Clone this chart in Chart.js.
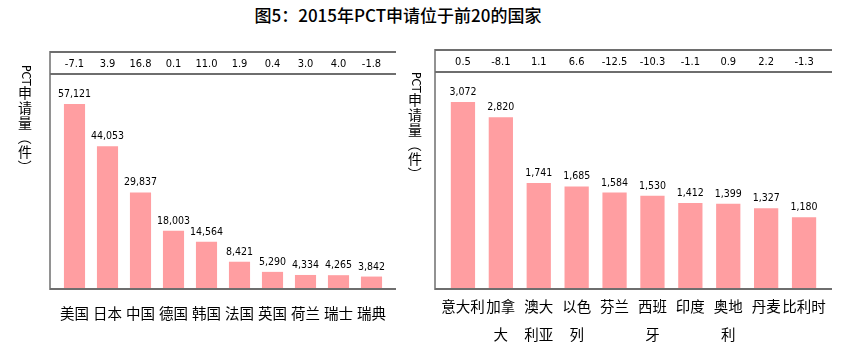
<!DOCTYPE html>
<html>
<head>
<meta charset="utf-8">
<script src="https://cdn.jsdelivr.net/npm/chart.js@4"></script>
<style>
  html, body { margin: 0; padding: 0; background: #fff; }
  #wrap { position: relative; width: 864px; height: 356px; overflow: hidden; }
  #title { position: absolute; left: 0; width: 796px; top: 4px; text-align: center;
           font: 500 17px "Noto Sans CJK SC", sans-serif; color: #000; line-height: 22px; }
  canvas { position: absolute; top: 0; }
  #c1 { left: 0; }
  #c2 { left: 400px; }
</style>
</head>
<body>
<div id="wrap">
  <div id="title">图5：2015年PCT申请位于前20的国家</div>
  <canvas id="c1" width="400" height="356"></canvas>
  <canvas id="c2" width="464" height="356"></canvas>
</div>
<script>
// ---- data ----
const leftCountries = ['美国','日本','中国','德国','韩国','法国','英国','荷兰','瑞士','瑞典'];
const leftApplications = [57121, 44053, 29837, 18003, 14564, 8421, 5290, 4334, 4265, 3842];
const leftGrowth = [-7.1, 3.9, 16.8, 0.1, 11.0, 1.9, 0.4, 3.0, 4.0, -1.8];

const rightCountries = ['意大利', ['加拿','大'], ['澳大','利亚'], ['以色','列'], '芬兰', ['西班','牙'], '印度', ['奥地','利'], '丹麦', '比利时'];
const rightApplications = [3072, 2820, 1741, 1685, 1584, 1530, 1412, 1399, 1327, 1180];
const rightGrowth = [0.5, -8.1, 1.1, 6.6, -12.5, -10.3, -1.1, 0.9, 2.2, -1.3];

const yTitle = 'PCT申请量（件）';

// ---- style ----
const BAR_COLOR = 'rgb(255,158,161)';
const LINE_COLOR = '#6e6e6e';
const NARROW = '"Liberation Sans Narrow", "Arial Narrow", "DejaVu Sans Condensed", sans-serif';
const CJK = '"Noto Sans CJK SC", sans-serif';

function drawVerticalTitle(ctx, x, y, text) {
  let cy = y;
  ctx.save();
  ctx.fillStyle = '#000';
  for (const ch of text) {
    const code = ch.codePointAt(0);
    const isCJK = code >= 0x4E00 && code <= 0x9FFF;
    if (isCJK) {
      ctx.font = '14px ' + CJK;
      ctx.textAlign = 'center';
      ctx.textBaseline = 'middle';
      ctx.fillText(ch, x, cy + 7.5);
      cy += 15;
    } else if (code >= 0xFF00) {
      ctx.font = '14px ' + CJK;
      ctx.save();
      ctx.translate(x, cy + 7);
      ctx.rotate(Math.PI / 2);
      ctx.textAlign = 'center';
      ctx.textBaseline = 'middle';
      ctx.fillText(ch, 0, 0);
      ctx.restore();
      cy += 14;
    } else {
      ctx.font = '12px ' + NARROW;
      const w = ctx.measureText(ch).width;
      ctx.save();
      ctx.translate(x, cy);
      ctx.rotate(Math.PI / 2);
      ctx.textAlign = 'left';
      ctx.textBaseline = 'middle';
      ctx.fillText(ch, 0, 0);
      ctx.restore();
      cy += w;
    }
  }
  ctx.restore();
}

const decorPlugin = {
  id: 'decor',
  afterDraw(chart, args, opts) {
    const ctx = chart.ctx;
    const a = chart.chartArea;
    const xs = chart.scales.x;
    const left = a.left - opts.ext, right = a.right + opts.ext;
    const top = a.top - opts.rowH;
    ctx.save();
    ctx.strokeStyle = LINE_COLOR;
    ctx.lineWidth = 2;
    ctx.beginPath(); ctx.moveTo(left, top); ctx.lineTo(right, top); ctx.stroke();
    ctx.beginPath(); ctx.moveTo(left, a.top); ctx.lineTo(right, a.top); ctx.stroke();
    ctx.lineWidth = 1.5;
    ctx.beginPath(); ctx.moveTo(left, top - 1); ctx.lineTo(left, a.bottom + 1); ctx.stroke();
    ctx.lineWidth = 2;
    ctx.beginPath(); ctx.moveTo(left, a.bottom); ctx.lineTo(right, a.bottom); ctx.stroke();

    // growth row
    ctx.fillStyle = '#000';
    ctx.font = '11px ' + NARROW;
    ctx.textAlign = 'center';
    ctx.textBaseline = 'middle';
    opts.growth.forEach((g, i) => {
      ctx.fillText(g.toFixed(1), xs.getPixelForValue(i), (top + a.top) / 2 + 1);
    });

    // value labels
    const meta = chart.getDatasetMeta(0);
    ctx.font = '10.5px ' + NARROW;
    ctx.textBaseline = 'alphabetic';
    meta.data.forEach((bar, i) => {
      const v = chart.data.datasets[0].data[i];
      ctx.fillText(v.toLocaleString('en-US'), bar.x, bar.y - 7);
    });
    ctx.restore();

    drawVerticalTitle(ctx, opts.titleX, opts.titleY, yTitle);
  }
};

function makeChart(id, labels, values, growth, cfg) {
  return new Chart(document.getElementById(id), {
    type: 'bar',
    data: {
      labels: labels,
      datasets: [{
        data: values,
        backgroundColor: BAR_COLOR,
        borderWidth: 0,
        barPercentage: 0.64,
        categoryPercentage: 1.0
      }]
    },
    options: {
      responsive: false,
      animation: false,
      events: [],
      layout: { padding: cfg.padding },
      plugins: {
        legend: { display: false },
        tooltip: { enabled: false },
        title: { display: false },
        decor: { growth: growth, ext: cfg.ext, rowH: 22, titleX: cfg.titleX, titleY: cfg.titleY }
      },
      scales: {
        x: {
          grid: { display: false },
          border: { display: false },
          ticks: {
            autoSkip: false, maxRotation: 0, minRotation: 0,
            color: '#000',
            padding: cfg.tickPad,
            font: { family: CJK, size: 14.5, lineHeight: 1.9 }
          },
          afterFit: (s) => { s.height = cfg.xHeight; }
        },
        y: { display: false, min: 0, max: cfg.ymax }
      }
    },
    plugins: [decorPlugin]
  });
}

makeChart('c1', leftCountries, leftApplications, leftGrowth, {
  padding: { left: 58, right: 12, top: 74, bottom: 356 - 289 - 40 },
  xHeight: 40, tickPad: 3, ymax: 66400, ext: 8, titleX: 25, titleY: 65
});
makeChart('c2', rightCountries, rightApplications, rightGrowth, {
  padding: { left: 44, right: 41, top: 72, bottom: 356 - 289 - 62 },
  xHeight: 62, tickPad: -4, ymax: 3565, ext: 9, titleX: 15, titleY: 72
});
</script>
</body>
</html>
